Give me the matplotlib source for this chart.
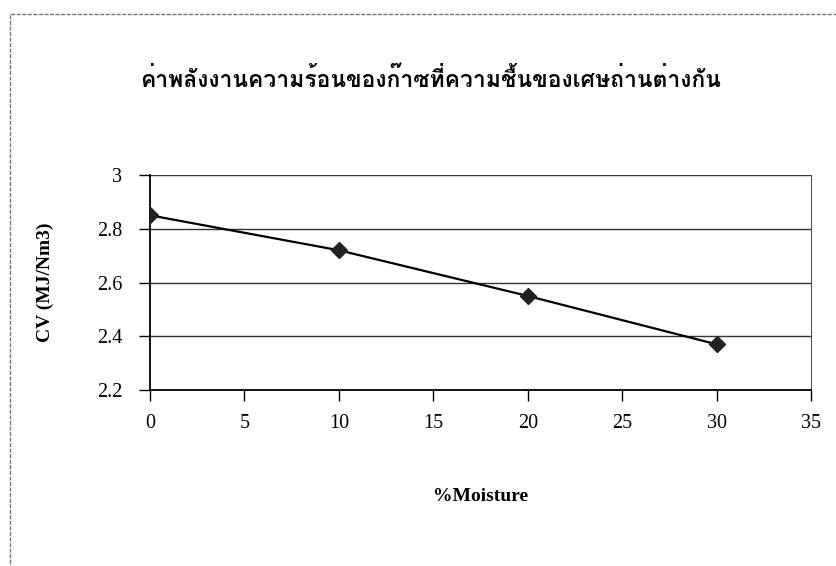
import numpy as np
import matplotlib
matplotlib.use('Agg')
import matplotlib.pyplot as plt
from matplotlib import font_manager
from matplotlib.ft2font import FT2Font
from matplotlib.patches import Rectangle

# gas heating value at different char moisture contents
moisture = [0, 10, 20, 30]
cv_values = [2.85, 2.72, 2.55, 2.37]
x_ticks = [0, 5, 10, 15, 20, 25, 30, 35]
y_ticks = [2.2, 2.4, 2.6, 2.8, 3.0]
y_tick_labels = ['2.2', '2.4', '2.6', '2.8', '3']
title = 'ค่าพลังงานความร้อนของก๊าซที่ความชื้นของเศษถ่านต่างกัน'


def find_thai_font():
    # look for any installed font that actually has Thai glyphs
    for f in font_manager.fontManager.ttflist:
        try:
            ft = FT2Font(f.fname)
            if all(ft.get_char_index(ord(c)) for c in 'ค่าพลังก๊ซ'):
                return f.name
        except Exception:
            continue
    return None


thai_font = find_thai_font()
serif = 'Liberation Serif'
title_family = [thai_font, serif] if thai_font else [serif]

fig = plt.figure(figsize=(8.37, 5.66), dpi=100)
fig.patch.set_facecolor('white')

# outer chart frame
fig.add_artist(Rectangle((10 / 837, -0.05), 1.1, 1 - 14 / 566 + 0.05,
                         transform=fig.transFigure, fill=False,
                         edgecolor='#777777', linewidth=1.0, linestyle=(0, (3, 1))))

ax = fig.add_axes([150 / 837, 1 - 390 / 566, (811 - 150) / 837, (390 - 175) / 566])
ax.plot(moisture, cv_values, color='black', linewidth=1.6, marker='D',
        markersize=8, markerfacecolor='#222222', markeredgecolor='#222222', zorder=3)

ax.set_xlim(0, 35)
ax.set_ylim(2.2, 3.0)
ax.set_xticks(x_ticks)
ax.set_yticks(y_ticks)
ax.set_yticklabels(y_tick_labels)
ax.grid(axis='y', color='#333333', linewidth=1.0)
ax.set_axisbelow(True)

ax.spines['top'].set_visible(False)
ax.spines['right'].set_linestyle((0, (2, 1)))
ax.spines['right'].set_color('#555555')
for s in ['left', 'bottom']:
    ax.spines[s].set_color('black')
    ax.spines[s].set_linewidth(1.3)

ax.tick_params(axis='y', direction='out', length=8, width=1, pad=12,
               labelsize=14.5, labelfontfamily=serif, colors='black')
ax.tick_params(axis='x', direction='out', length=8, width=1, pad=9,
               labelsize=14.5, labelfontfamily=serif, colors='black')

ax.set_xlabel('%Moisture', fontsize=14, fontweight='bold', family=serif, labelpad=40)
ax.set_ylabel('CV (MJ/Nm3)', fontsize=14, fontweight='bold', family=serif, labelpad=31)

fig.text(431 / 837, 1 - 79 / 566, title, ha='center', va='center',
         fontsize=16.5, fontweight='bold', family=title_family)

fig.savefig('out.png', dpi=100)
